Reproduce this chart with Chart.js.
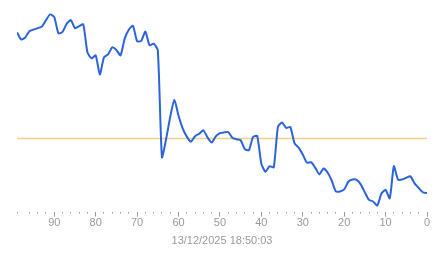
<!DOCTYPE html>
<html>
<head>
<meta charset="utf-8">
<script src="https://cdn.jsdelivr.net/npm/chart.js@4/dist/chart.umd.min.js"></script>
<style>
    body { margin: 0; background: #fff; }
</style>
</head>
<body>
<canvas id="lineChart" width="443" height="258"></canvas>
<script>
// seconds ago (x axis, reversed)
const secondsAgo = [99, 98, 97, 96, 95, 94, 93, 92, 91, 90,
    89, 88, 87, 86, 85, 84, 83, 82, 81, 80,
    79, 78, 77, 76, 75, 74, 73, 72, 71, 70,
    69, 68, 67, 66, 65, 64, 63, 62, 61, 60,
    59, 58, 57, 56, 55, 54, 53, 52, 51, 50,
    49, 48, 47, 46, 45, 44, 43, 42, 41, 40,
    39, 38, 37, 36, 35, 34, 33, 32, 31, 30,
    29, 28, 27, 26, 25, 24, 23, 22, 21, 20,
    19, 18, 17, 16, 15, 14, 13, 12, 11, 10,
    9, 8, 7, 6, 5, 4, 3, 2, 1, 0];

const readings = [88.9, 85.4, 86.4, 89.5, 90.3, 91.0, 91.8, 95.0, 97.8, 96.5,
    88.4, 89.1, 93.2, 95.0, 91.0, 92.0, 92.9, 79.0, 76.0, 77.5,
    68.0, 76.5, 78.0, 81.5, 80.2, 77.5, 85.8, 90.2, 92.2, 84.5,
    84.7, 89.3, 82.5, 83.3, 80.0, 27.0, 36.0, 47.0, 55.5, 47.5,
    41.3, 37.2, 34.7, 37.4, 38.6, 40.3, 36.8, 34.3, 37.3, 38.9,
    39.3, 39.5, 36.6, 35.9, 35.4, 31.0, 30.5, 37.0, 37.5, 23.8,
    19.8, 22.5, 22.0, 42.0, 44.2, 41.5, 42.0, 34.0, 31.7, 28.3,
    24.3, 24.5, 21.8, 18.5, 21.4, 19.4, 15.3, 10.0, 10.0, 11.0,
    14.8, 15.9, 15.7, 13.5, 9.5, 5.8, 5.0, 3.0, 9.0, 10.8,
    6.5, 22.5, 15.9, 15.9, 16.8, 17.5, 14.0, 11.7, 9.6, 9.2];

const threshold = 36.25;
const timestamp = '13/12/2025 18:50:03';

const lineData = secondsAgo.map((s, i) => ({x: s, y: readings[i]}))
const thresholdData = [{x: secondsAgo[0], y: threshold}, {x: secondsAgo[secondsAgo.length - 1], y: threshold}]

const ctx = document.getElementById('lineChart');

new Chart(ctx, {
    type: 'line',
    data: {
        datasets: [{
            label: 'Value',
            data: lineData,
            borderColor: '#2b63d9',
            borderWidth: 2,
            pointRadius: 0,
            fill: false,
            tension: 0.2
        },
            {
                label: 'Threshold',
                data: thresholdData,
                borderColor: 'rgba(240, 205, 120, 0.9)',
                borderWidth: 1.5,
                pointRadius: 0,
                fill: false
            }]
    },
    options: {
        responsive: false,
        animation: false,
        layout: {
            padding: {left: 17, right: 16, top: 10, bottom: 10}
        },
        plugins: {
            legend: {display: false},
            tooltip: {enabled: false}
        },
        scales: {
            x: {
                type: 'linear',
                reverse: true,
                min: 0,
                max: 99,
                border: {display: false},
                grid: {
                    drawOnChartArea: false,
                    drawTicks: true,
                    tickLength: 5,
                    tickColor: '#999',
                    tickBorderDash: (c) => (c.tick && c.tick.value % 10 === 0) ? [] : [1.5, 20]
                },
                ticks: {
                    stepSize: 2,
                    autoSkip: false,
                    maxRotation: 0,
                    padding: 0,
                    color: '#999',
                    font: {family: '"Liberation Sans", Arial, sans-serif', size: 11},
                    callback: (v) => v % 10 === 0 ? v : ''
                },
                title: {
                    display: true,
                    text: timestamp,
                    color: '#999',
                    padding: {top: 5, bottom: 0},
                    font: {family: '"Liberation Sans", Arial, sans-serif', size: 11}
                }
            },
            y: {
                display: false,
                min: 0,
                max: 100
            }
        }
    }
});
</script>
</body>
</html>
